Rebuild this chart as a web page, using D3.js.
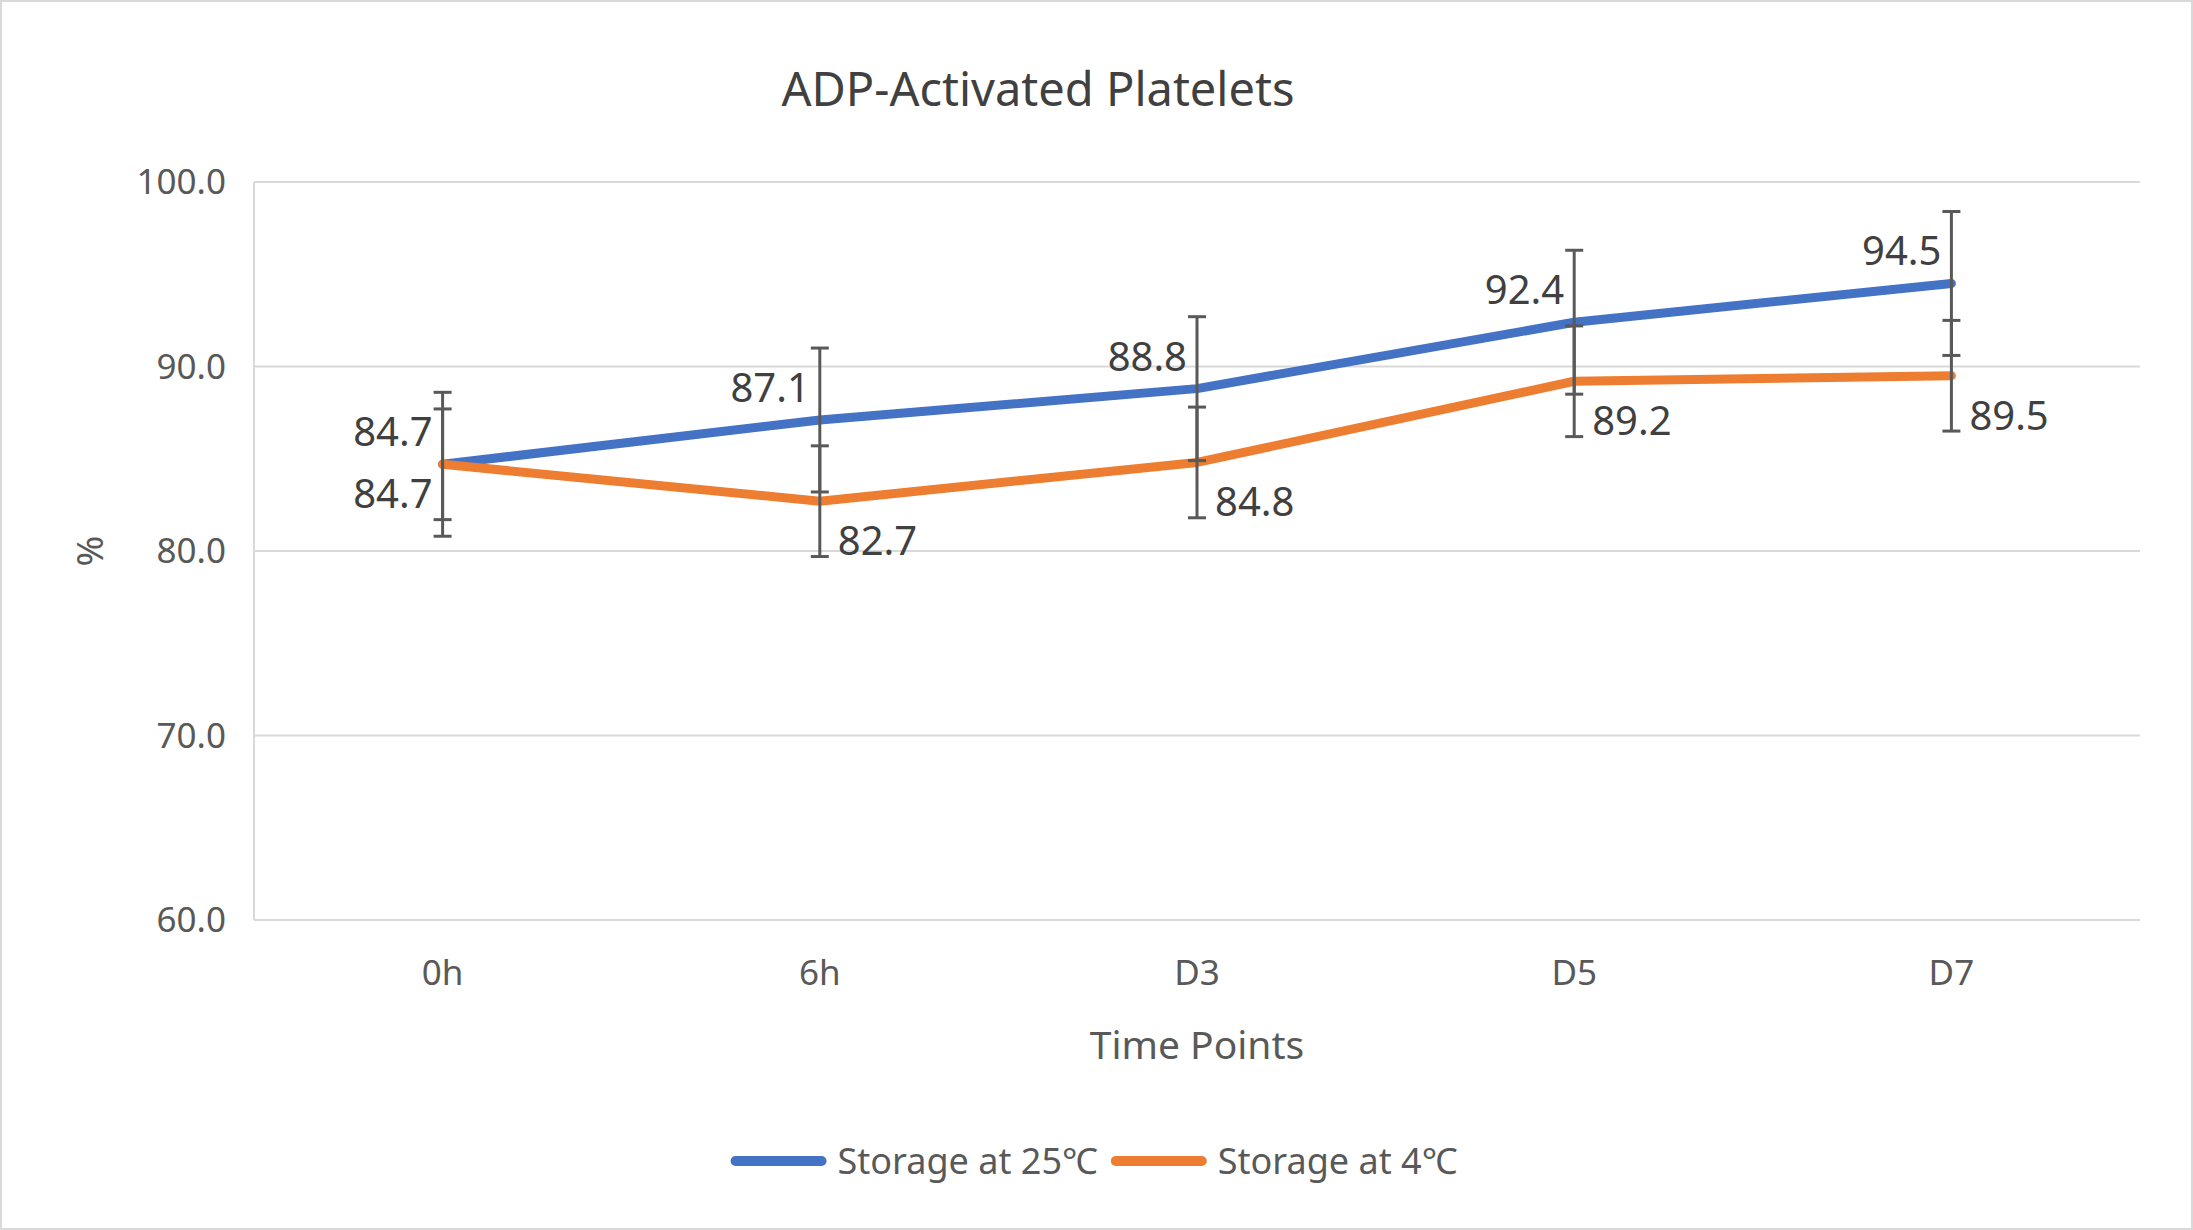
<!DOCTYPE html>
<html>
<head>
<meta charset="utf-8">
<script src="https://cdn.jsdelivr.net/npm/d3@7"></script>
<style>
  body { margin: 0; background: #fff; }
  text { font-family: "Noto Sans", "Noto Sans CJK SC", sans-serif; fill: #595959; }
</style>
</head>
<body>
<script>
// data
var timePoints = ["0h", "6h", "D3", "D5", "D7"];
var storage25 = [84.7, 87.1, 88.8, 92.4, 94.5];
var storage4 = [84.7, 82.7, 84.8, 89.2, 89.5];
var err25 = [3.9, 3.9, 3.9, 3.9, 3.9];
var err4 = [3.0, 3.0, 3.0, 3.0, 3.0];
var yTicks = [60, 70, 80, 90, 100];
var seriesNames = ["Storage at 25\u2103", "Storage at 4\u2103"];

var svg_width = 2193;
var svg_height = 1230;

var margin = { top: 182, right: 53, bottom: 310, left: 254 };

var svg = d3.select("body")
  .append("svg")
  .attr("width", svg_width)
  .attr("height", svg_height);

// outer border
svg.append("rect")
  .attr("x", 1).attr("y", 1)
  .attr("width", svg_width - 2).attr("height", svg_height - 2)
  .attr("fill", "#fff")
  .attr("stroke", "#d9d9d9")
  .attr("stroke-width", 2);

var x = d3.scalePoint()
  .domain(timePoints)
  .range([margin.left, svg_width - margin.right])
  .padding(0.5);

var y = d3.scaleLinear()
  .domain([60, 100])
  .range([svg_height - margin.bottom, margin.top]);

// gridlines
svg.append("g")
  .selectAll("line")
  .data(yTicks)
  .enter()
  .append("line")
  .attr("x1", margin.left)
  .attr("x2", svg_width - margin.right)
  .attr("y1", d => y(d))
  .attr("y2", d => y(d))
  .attr("stroke", "#d9d9d9")
  .attr("stroke-width", 2);

// left axis line
svg.append("line")
  .attr("x1", margin.left).attr("x2", margin.left)
  .attr("y1", y(100)).attr("y2", y(60))
  .attr("stroke", "#d9d9d9")
  .attr("stroke-width", 2);

// y tick labels
svg.append("g")
  .selectAll("text")
  .data(yTicks)
  .enter()
  .append("text")
  .attr("x", margin.left - 28)
  .attr("y", d => y(d))
  .attr("dy", "0.35em")
  .attr("text-anchor", "end")
  .style("font-size", "35px")
  .text(d => d.toFixed(1));

// x tick labels
svg.append("g")
  .selectAll("text")
  .data(timePoints)
  .enter()
  .append("text")
  .attr("x", d => x(d))
  .attr("y", y(60) + 53)
  .attr("dy", "0.35em")
  .attr("text-anchor", "middle")
  .style("font-size", "35px")
  .text(d => d);

// titles
svg.append("text")
  .attr("x", 1038)
  .attr("y", 90)
  .attr("dy", "0.35em")
  .attr("text-anchor", "middle")
  .style("font-size", "47px")
  .style("fill", "#404040")
  .text("ADP-Activated Platelets");

svg.append("text")
  .attr("x", (x.range()[0] + x.range()[1]) / 2)
  .attr("y", 1045)
  .attr("dy", "0.35em")
  .attr("text-anchor", "middle")
  .style("font-size", "39px")
  .text("Time Points");

svg.append("text")
  .attr("transform", "translate(90," + ((y(60) + y(100)) / 2) + ") rotate(-90)")
  .attr("dy", "0.35em")
  .attr("text-anchor", "middle")
  .style("font-size", "37px")
  .text("%");

var series = [
  { name: seriesNames[0], values: storage25, errs: err25, color: "#4472C4", above: true },
  { name: seriesNames[1], values: storage4, errs: err4, color: "#ED7D31", above: false }
];

var line = d3.line()
  .x((d, i) => x(timePoints[i]))
  .y(d => y(d));

// lines first, error bars over them
series.forEach(function(s) {
  svg.append("path")
    .datum(s.values)
    .attr("d", line)
    .attr("fill", "none")
    .attr("stroke", s.color)
    .attr("stroke-width", 9)
    .attr("stroke-linejoin", "round")
    .attr("stroke-linecap", "round");
});

series.forEach(function(s) {
  var g = svg.append("g");
  var pts = s.values.map((v, i) => ({ cat: timePoints[i], v: v, e: s.errs[i] }));
  g.selectAll("line.bar")
    .data(pts)
    .enter()
    .append("line")
    .attr("x1", d => x(d.cat)).attr("x2", d => x(d.cat))
    .attr("y1", d => y(d.v + d.e)).attr("y2", d => y(d.v - d.e))
    .attr("stroke", "#595959").attr("stroke-width", 3);
  [1, -1].forEach(function(sign) {
    g.selectAll(null)
      .data(pts)
      .enter()
      .append("line")
      .attr("x1", d => x(d.cat) - 9).attr("x2", d => x(d.cat) + 9)
      .attr("y1", d => y(d.v + sign * d.e)).attr("y2", d => y(d.v + sign * d.e))
      .attr("stroke", "#595959").attr("stroke-width", 3);
  });
});

// data labels
series.forEach(function(s) {
  svg.append("g")
    .selectAll("text")
    .data(s.values)
    .enter()
    .append("text")
    .attr("x", function(d, i) {
      if (s.above || i == 0) return x(timePoints[i]) - 10;
      return x(timePoints[i]) + 18;
    })
    .attr("y", function(d, i) {
      if (s.above) return y(d) - 32;
      return i == 0 ? y(d) + 30 : y(d) + 40;
    })
    .attr("dy", "0.35em")
    .attr("text-anchor", (d, i) => (s.above || i == 0) ? "end" : "start")
    .style("font-size", "40px")
    .style("fill", "#404040")
    .text(d => d.toFixed(1));
});

// legend
var legend = svg.append("g");
var lx = 0;
series.forEach(function(s) {
  legend.append("line")
    .attr("x1", lx + 5).attr("x2", lx + 91)
    .attr("y1", 1161).attr("y2", 1161)
    .attr("stroke", s.color)
    .attr("stroke-width", 10)
    .attr("stroke-linecap", "round");
  var t = legend.append("text")
    .attr("x", lx + 107)
    .attr("y", 1161)
    .attr("dy", "0.35em")
    .style("font-size", "36px")
    .text(s.name);
  lx += 107 + t.node().getComputedTextLength() + 13;
});
legend.attr("transform", "translate(" + (1094 - (lx - 13) / 2) + ",0)");
</script>
</body>
</html>
